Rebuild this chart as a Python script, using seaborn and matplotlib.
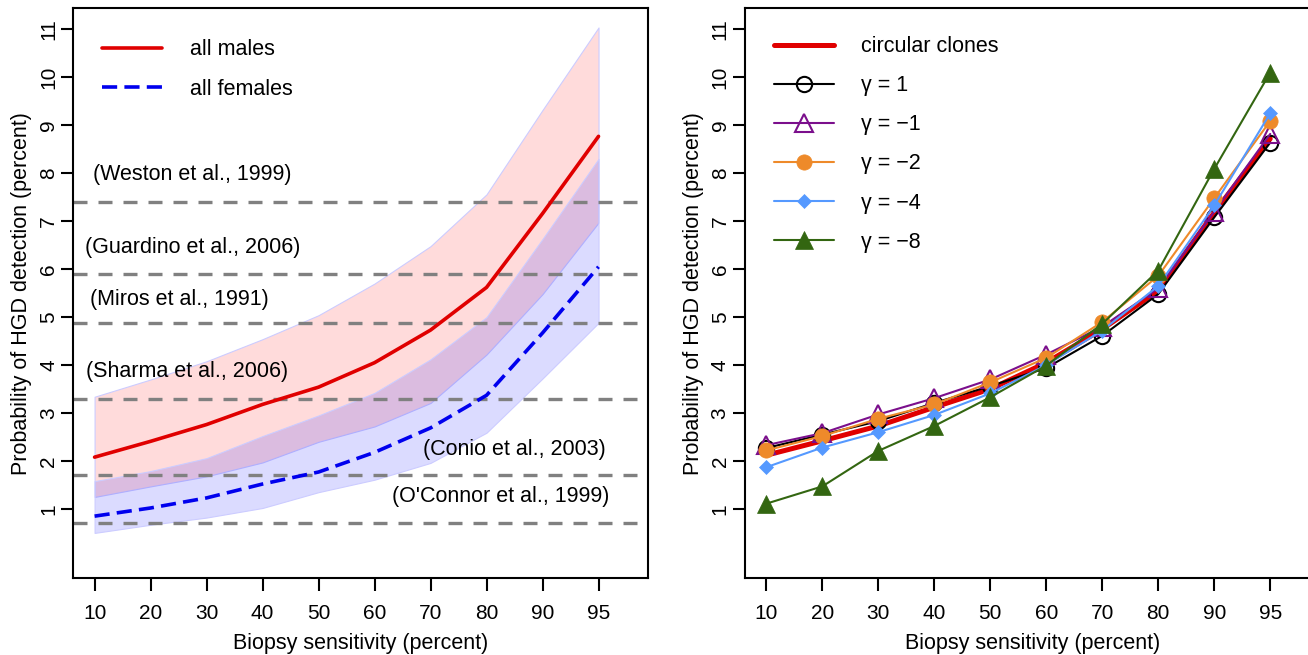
import numpy as np
import pandas as pd
import matplotlib
matplotlib.use("Agg")
import matplotlib.pyplot as plt
import seaborn as sns

sens_labels = ["10", "20", "30", "40", "50", "60", "70", "80", "90", "95"]
pos = np.arange(len(sens_labels))

# left panel: all males / all females with bands
male_mean = [2.08, 2.41, 2.76, 3.18, 3.54, 4.05, 4.73, 5.62, 7.16, 8.77]
male_upper = [3.34, 3.70, 4.08, 4.54, 5.04, 5.70, 6.48, 7.56, 9.32, 11.04]
male_lower = [1.25, 1.47, 1.68, 1.97, 2.40, 2.72, 3.21, 4.22, 5.48, 6.97]
female_mean = [0.85, 1.02, 1.23, 1.52, 1.77, 2.18, 2.69, 3.37, 4.67, 6.05]
female_upper = [1.58, 1.79, 2.06, 2.52, 2.95, 3.42, 4.12, 5.00, 6.63, 8.30]
female_lower = [0.50, 0.67, 0.82, 1.02, 1.35, 1.61, 1.96, 2.59, 3.72, 4.88]

study_names = ["(Weston et al., 1999)", "(Guardino et al., 2006)", "(Miros et al., 1991)",
               "(Sharma et al., 2006)", "(Conio et al., 2003)", "(O'Connor et al., 1999)"]
study_values = [7.4, 5.9, 4.88, 3.3, 1.7, 0.7]

# right panel
circular = [2.12, 2.42, 2.73, 3.12, 3.50, 4.05, 4.75, 5.55, 7.18, 8.72]
gamma_p1 = [2.27, 2.55, 2.83, 3.21, 3.56, 3.94, 4.61, 5.48, 7.08, 8.64]
gamma_m1 = [2.33, 2.58, 2.97, 3.31, 3.70, 4.22, 4.80, 5.60, 7.20, 8.82]
gamma_m2 = [2.22, 2.52, 2.88, 3.18, 3.64, 4.15, 4.90, 5.86, 7.48, 9.09]
gamma_m4 = [1.87, 2.28, 2.60, 2.96, 3.41, 4.00, 4.72, 5.65, 7.33, 9.25]
gamma_m8 = [1.11, 1.47, 2.21, 2.73, 3.33, 3.99, 4.86, 5.97, 8.09, 10.10]

sns.set_style("ticks")
plt.rcParams["font.family"] = ["Liberation Sans", "DejaVu Sans"]
plt.rcParams["axes.linewidth"] = 1.5
plt.rcParams["text.color"] = "black"
plt.rcParams["axes.labelcolor"] = "black"
plt.rcParams["xtick.color"] = "black"
plt.rcParams["ytick.color"] = "black"

FS = 15.5
W, H = 1308, 655

fig = plt.figure(figsize=(W / 100, H / 100), dpi=100)
ax_w = 574.5 / W
ax_b = 77 / H
ax_h = 569.7 / H
ax1 = fig.add_axes([73.3 / W, ax_b, ax_w, ax_h])
ax2 = fig.add_axes([745 / W, ax_b, ax_w, ax_h])


def style_axis(ax):
    ax.set_xlim(-0.38, 9.88)
    ax.set_ylim(-0.44, 11.44)
    ax.set_xticks(pos)
    ax.set_xticklabels(sens_labels)
    ax.set_yticks(range(1, 12))
    ax.tick_params(axis="both", length=9, width=1.5, labelsize=15, colors="black")
    ax.tick_params(axis="x", pad=9.5)
    ax.tick_params(axis="y", pad=2, labelrotation=90)
    for lbl in ax.get_yticklabels():
        lbl.set_va("center")
    for sp in ax.spines.values():
        sp.set_visible(True)
        sp.set_linewidth(1.5)
        sp.set_color("black")
    ax.set_xlabel("Biopsy sensitivity (percent)", fontsize=FS)
    ax.set_ylabel("Probability of HGD detection (percent)", fontsize=FS)
    ax.xaxis.set_label_coords(0.5, -0.097)
    ax.yaxis.set_label_coords(-0.072, 0.5)


# ---- left panel
ax1.fill_between(pos, male_lower, male_upper, facecolor=(1, 0, 0, 0.14),
                 edgecolor=(0.8, 0.8, 1.0), lw=0.8, zorder=1)
ax1.fill_between(pos, female_lower, female_upper, facecolor=(0, 0, 1, 0.14),
                 edgecolor=(0.8, 0.8, 1.0), lw=0.8, zorder=1)
for v in study_values:
    ax1.axhline(v, color="#808080", lw=2.4, linestyle=(0, (4.2, 3.3)), zorder=2)

sns.lineplot(x=pos, y=male_mean, ax=ax1, color="#E00000", lw=2.6,
             label="all males", errorbar=None, zorder=3)
sns.lineplot(x=pos, y=female_mean, ax=ax1, color="#0000EE", lw=2.6,
             linestyle=(0, (4.2, 2.0)), label="all females", errorbar=None, zorder=3)

label_x = [1.75, 1.76, 1.52, 1.66, 7.50, 7.25]
label_y = [7.97, 6.45, 5.37, 3.87, 2.25, 1.25]
for name, lx, ly in zip(study_names, label_x, label_y):
    ax1.text(lx, ly, name, ha="center", va="center", fontsize=FS, zorder=4)

ax1.legend(loc="upper left", bbox_to_anchor=(0.05, 0.946), frameon=False,
           fontsize=FS, handlelength=2.8, handletextpad=1.3, labelspacing=0.87,
           borderaxespad=0, borderpad=0)
style_axis(ax1)

# ---- right panel
sns.lineplot(x=pos, y=circular, ax=ax2, color="#E00000", lw=3.6,
             label="circular clones", errorbar=None)
sns.lineplot(x=pos, y=gamma_p1, ax=ax2, color="black", lw=1.5, marker="o",
             markersize=11, mfc="none", mec="black", mew=1.5, label="γ = 1", errorbar=None)
sns.lineplot(x=pos, y=gamma_m1, ax=ax2, color="#7B0F8C", lw=1.5, marker="^",
             markersize=12.5, mfc="none", mec="#7B0F8C", mew=1.5, label="γ = −1", errorbar=None)
sns.lineplot(x=pos, y=gamma_m2, ax=ax2, color="#EE8A2A", lw=1.5, marker="o",
             markersize=11, mfc="#EE8A2A", mec="#EE8A2A", mew=0.5, label="γ = −2", errorbar=None)
sns.lineplot(x=pos, y=gamma_m4, ax=ax2, color="#5599FF", lw=1.5, marker="D",
             markersize=6.8, mfc="#5599FF", mec="#5599FF", mew=0.5, label="γ = −4", errorbar=None)
sns.lineplot(x=pos, y=gamma_m8, ax=ax2, color="#336611", lw=1.5, marker="^",
             markersize=12.5, mfc="#336611", mec="#336611", mew=0.5, label="γ = −8", errorbar=None)

ax2.legend(loc="upper left", bbox_to_anchor=(0.05, 0.951), frameon=False,
           fontsize=FS, handlelength=2.8, handletextpad=1.25, labelspacing=0.84,
           borderaxespad=0, borderpad=0, numpoints=1)
style_axis(ax2)
ax2.spines["right"].set_visible(False)

fig.savefig("out.png", dpi=100)
